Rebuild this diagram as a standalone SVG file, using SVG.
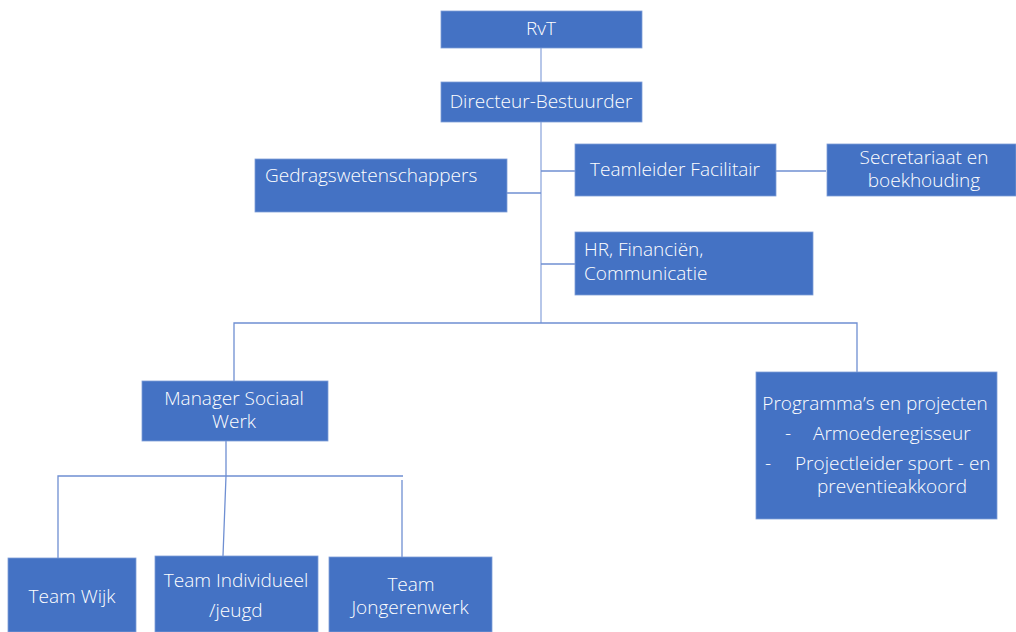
<svg xmlns="http://www.w3.org/2000/svg" width="1016" height="632" viewBox="0 0 1016 632">
<style>
.box{fill:#4472C4;stroke:#7E9DD8;stroke-width:0.8}
.t{font-family:"Open Sans","Noto Sans","Liberation Sans",sans-serif;font-size:19px;fill:#ffffff;font-weight:300}
.c{text-anchor:middle}
.ln{fill:none;stroke:#6F8FD2;stroke-width:1.3}
.lt{fill:none;stroke:#9FB5E2;stroke-width:1.5}
</style>
<rect width="1016" height="632" fill="#ffffff"/>
<g id="connectors">
<line class="lt" x1="541" y1="48" x2="541" y2="82"/>
<line class="lt" x1="541" y1="122" x2="541" y2="323"/>
<line class="ln" x1="507" y1="193" x2="541" y2="193"/>
<line class="ln" x1="541" y1="171" x2="575" y2="171"/>
<line class="ln" x1="776" y1="171" x2="826" y2="171"/>
<line class="ln" x1="541" y1="264" x2="575" y2="264"/>
<polyline class="ln" points="234,381 234,323 857,323 857,372"/>
<polyline class="ln" points="226,441 226,476 223,556"/>
<polyline class="ln" points="58,558 58,476 403,476"/>
<line class="ln" x1="402" y1="480" x2="402" y2="557"/>
</g>
<g id="rvt"><rect class="box" x="441" y="11" width="201" height="37"/><text class="t c" x="541" y="35">RvT</text></g>
<g id="directeur"><rect class="box" x="441" y="82" width="201" height="40"/><text class="t c" x="541" y="108">Directeur-Bestuurder</text></g>
<g id="gedrags"><rect class="box" x="255" y="159" width="252" height="53"/><text class="t" x="265" y="182">Gedragswetenschappers</text></g>
<g id="teamleider"><rect class="box" x="575" y="144" width="201" height="52"/><text class="t c" x="675" y="176">Teamleider Facilitair</text></g>
<g id="secretariaat"><rect class="box" x="827" y="144" width="189" height="52"/><text class="t c"><tspan x="924" y="164">Secretariaat en</tspan><tspan x="924" y="187">boekhouding</tspan></text></g>
<g id="hr"><rect class="box" x="575" y="232" width="238" height="63"/><text class="t"><tspan x="584" y="256">HR, Financiën,</tspan><tspan x="584" y="280">Communicatie</tspan></text></g>
<g id="manager"><rect class="box" x="142" y="381" width="186" height="60"/><text class="t c"><tspan x="234" y="405">Manager Sociaal</tspan><tspan x="234" y="428">Werk</tspan></text></g>
<g id="programma"><rect class="box" x="756" y="372" width="241" height="147"/><text class="t"><tspan class="c" x="875" y="410">Programma’s en projecten</tspan><tspan x="785" y="440">-</tspan><tspan x="813" y="440">Armoederegisseur</tspan><tspan x="765" y="470">-</tspan><tspan x="795" y="470">Projectleider sport - en</tspan><tspan x="817" y="493">preventieakkoord</tspan></text></g>
<g id="teamwijk"><rect class="box" x="8" y="558" width="128" height="74"/><text class="t c" x="72" y="603">Team Wijk</text></g>
<g id="teamindividueel"><rect class="box" x="155" y="556" width="163" height="76"/><text class="t"><tspan class="c" x="236" y="587">Team Individueel</tspan><tspan x="209" y="617">/jeugd</tspan></text></g>
<g id="teamjongeren"><rect class="box" x="329" y="557" width="163" height="75"/><text class="t c"><tspan x="411" y="591">Team</tspan><tspan x="410" y="614">Jongerenwerk</tspan></text></g>
</svg>
